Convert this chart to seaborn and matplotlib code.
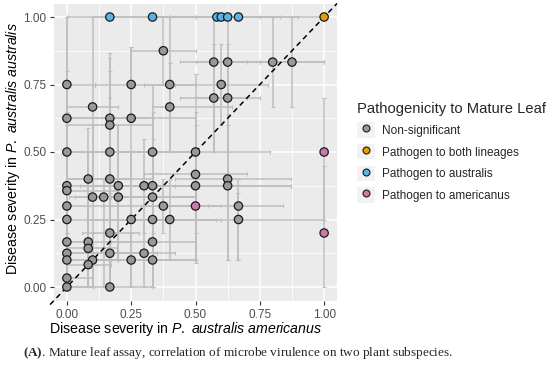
import numpy as np
import pandas as pd
import matplotlib
matplotlib.use("Agg")
import matplotlib.pyplot as plt
import seaborn as sns
from matplotlib.lines import Line2D
from matplotlib.patches import Patch
from matplotlib.legend_handler import HandlerTuple

# mean disease severity on each subspecies, with error bar limits
americanus = [0.375, 0.571, 0.625, 0.8, 0.875,
              0.0, 0.25, 0.4, 0.6, 0.571, 0.625, 0.1, 0.4,
              0.0, 0.167, 0.25, 0.167,
              0.0, 0.167, 0.333, 0.5, 0.5,
              0.083, 0.167, 0.625,
              0.0, 0.2, 0.3, 0.333, 0.5, 0.625, 0.0,
              0.1, 0.143, 0.2, 0.333,
              0.0, 0.375, 0.667,
              0.0, 0.25, 0.333, 0.4, 0.667,
              0.167, 0.0, 0.083, 0.333, 0.083,
              0.0, 0.167, 0.3, 0.0, 0.1, 0.25, 0.333,
              0.083, 0.0, 0.0, 0.167,
              1.0,
              0.167, 0.333, 0.583, 0.6, 0.625, 0.667,
              1.0, 0.5, 1.0]
australis = [0.875, 0.833, 0.833, 0.833, 0.833,
             0.75, 0.75, 0.75, 0.75, 0.70, 0.70, 0.667, 0.667,
             0.625, 0.625, 0.625, 0.6,
             0.5, 0.5, 0.5, 0.5, 0.417,
             0.4, 0.4, 0.4,
             0.375, 0.375, 0.375, 0.375, 0.375, 0.375, 0.357,
             0.333, 0.333, 0.333, 0.333,
             0.3, 0.3, 0.3,
             0.25, 0.25, 0.25, 0.25, 0.25,
             0.2, 0.167, 0.167, 0.167, 0.143,
             0.125, 0.125, 0.125, 0.1, 0.1, 0.1, 0.1,
             0.083, 0.033, 0.0, 0.0,
             1.0,
             1.0, 1.0, 1.0, 1.0, 1.0, 1.0,
             0.5, 0.3, 0.2]
amer_lo = [0.25, 0.44, 0.5, 0.6, 0.75,
           0.0, 0.11, 0.3, 0.42, 0.44, 0.5, 0.0, 0.33,
           0.0, 0.0, 0.167, 0.0,
           0.0, 0.0, 0.2, 0.2, 0.3,
           0.0, 0.0, 0.42,
           0.0, 0.05, 0.1, 0.2, 0.3, 0.42, 0.0,
           0.01, 0.03, 0.1, 0.17,
           0.0, 0.14, 0.5,
           0.0, 0.08, 0.08, 0.25, 0.4,
           0.06, 0.0, 0.0, 0.17, 0.0,
           0.0, 0.0, 0.17, 0.0, 0.0, 0.1, 0.17,
           0.0, 0.0, 0.0, 0.0,
           0.67,
           0.0, 0.1, 0.33, 0.4, 0.5, 0.4,
           1.0, 0.3, 1.0]
amer_hi = [0.5, 0.70, 0.75, 1.0, 1.0,
           0.11, 0.39, 0.5, 0.78, 0.70, 0.75, 0.2, 0.64,
           0.25, 0.333, 0.5, 0.333,
           0.33, 0.35, 0.5, 0.79, 0.7,
           0.25, 0.33, 0.87,
           0.2, 0.35, 0.5, 0.5, 0.87, 0.87, 0.2,
           0.25, 0.3, 0.5, 0.5,
           0.14, 0.55, 0.84,
           0.08, 0.4, 0.58, 0.6, 1.0,
           0.28, 0.08, 0.25, 0.5, 0.2,
           0.2, 0.35, 0.42, 0.2, 0.2, 0.5, 0.5,
           0.17, 0.1, 0.1, 0.333,
           1.0,
           0.5, 0.6, 0.83, 0.8, 0.75, 0.9,
           1.0, 0.6, 1.0]
aus_lo = [0.75, 0.5, 0.667, 0.667, 0.667,
          0.5, 0.61, 0.5, 0.6, 0.5, 0.5, 0.33, 0.5,
          0.25, 0.4, 0.25, 0.35,
          0.2, 0.2, 0.25, 0.09, 0.2,
          0.1, 0.1, 0.1,
          0.1, 0.1, 0.2, 0.1, 0.1, 0.1, 0.0,
          0.0, 0.0, 0.1, 0.1,
          0.0, 0.2, 0.1,
          0.0, 0.0, 0.0, 0.1, 0.1,
          0.0, 0.0, 0.0, 0.1, 0.0,
          0.0, 0.0, 0.0, 0.0, 0.0, 0.0, 0.0,
          0.0, 0.0, 0.0, 0.0,
          1.0,
          1.0, 1.0, 1.0, 1.0, 1.0, 1.0,
          0.25, 0.1, 0.0]
aus_hi = [1.0, 1.0, 1.0, 1.0, 1.0,
          1.0, 0.89, 1.0, 0.9, 0.9, 0.9, 1.0, 0.83,
          1.0, 0.865, 0.89, 0.85,
          0.8, 0.8, 0.75, 0.79, 0.6,
          0.59, 0.7, 0.64,
          0.65, 0.6, 0.55, 0.65, 0.65, 0.6, 0.6,
          0.6, 0.4, 0.6, 0.55,
          0.6, 0.4, 0.35,
          0.5, 0.5, 0.5, 0.4, 0.4,
          0.35, 0.35, 0.5, 0.25, 0.3,
          0.25, 0.3, 0.25, 0.2, 0.2, 0.2, 0.2,
          0.17, 0.1, 0.1, 0.1,
          1.0,
          1.0, 1.0, 1.0, 1.0, 1.0, 1.0,
          0.7, 0.5, 0.45]
groups = (["Non-significant"] * 60 + ["Pathogen to both lineages"]
          + ["Pathogen to australis"] * 6 + ["Pathogen to americanus"] * 3)

levels = ["Non-significant", "Pathogen to both lineages",
          "Pathogen to australis", "Pathogen to americanus"]
colors = ["#999999", "#E69F00", "#56B4E9", "#CC79A7"]

df = pd.DataFrame({"americanus": americanus, "australis": australis,
                   "amer_lo": amer_lo, "amer_hi": amer_hi,
                   "aus_lo": aus_lo, "aus_hi": aus_hi, "group": groups})

sns.set_theme(style="darkgrid")
plt.rcParams["font.family"] = ["Liberation Sans", "DejaVu Sans"]
plt.rcParams["mathtext.fontset"] = "custom"
plt.rcParams["mathtext.rm"] = "Liberation Sans"
plt.rcParams["mathtext.it"] = "Liberation Sans:italic"
plt.rcParams["mathtext.bf"] = "Liberation Serif:bold"

fig = plt.figure(figsize=(5.5, 3.65), dpi=100)
ax = fig.add_axes([54 / 550, 1 - 300.5 / 365, 283 / 550, 297 / 365])
ax.set_facecolor("#EBEBEB")

ax.errorbar(df.americanus, df.australis,
            xerr=[df.americanus - df.amer_lo, df.amer_hi - df.americanus],
            yerr=[df.australis - df.aus_lo, df.aus_hi - df.australis],
            fmt="none", ecolor="#BEBEBE", elinewidth=1.1, capsize=1.6,
            capthick=0.8, zorder=2)

ax.plot([-0.065, 1.05], [-0.065, 1.05], ls=(0, (3.4, 2.6)), color="black",
        lw=1.1, zorder=3, clip_on=False)

sns.scatterplot(data=df, x="americanus", y="australis", hue="group",
                hue_order=levels, palette=colors, s=36, edgecolor="#1a1a1a",
                linewidth=0.9, legend=False, zorder=4, ax=ax)

ax.set_xlim(-0.05, 1.05)
ax.set_ylim(-0.05, 1.05)
ticks = [0, 0.25, 0.5, 0.75, 1.0]
ax.set_xticks(ticks)
ax.set_yticks(ticks)
ax.set_xticklabels(["0.00", "0.25", "0.50", "0.75", "1.00"])
ax.set_yticklabels(["0.00", "0.25", "0.50", "0.75", "1.00"])
ax.set_xticks([0.125, 0.375, 0.625, 0.875], minor=True)
ax.set_yticks([0.125, 0.375, 0.625, 0.875], minor=True)
ax.grid(which="major", color="white", lw=1.1)
ax.grid(which="minor", color="white", lw=0.55)
ax.set_axisbelow(True)
for s in ax.spines.values():
    s.set_visible(False)
ax.tick_params(which="major", length=3, width=0.8, color="#333333",
               labelcolor="#4D4D4D", labelsize=8.5, pad=2.6,
               bottom=True, left=True)
ax.tick_params(axis="x", which="major", pad=3.0)
ax.tick_params(which="minor", length=0)

ax.set_xlabel(r"Disease severity in $\it{P.}$ $\it{australis\ americanus}$",
              fontsize=10.2, color="black")
ax.set_ylabel(r"Disease severity in $\it{P.}$ $\it{australis\ australis}$",
              fontsize=10.2, color="black")
ax.xaxis.set_label_coords((186 - 54) / 283, -(320 - 300.5) / 297)
ax.yaxis.set_label_coords(-(54 - 22) / 283, (300.5 - 148.5) / 297)

handles = [(Patch(facecolor="#F2F2F2", edgecolor="none"),
            Line2D([], [], ls="none", marker="o", ms=5, mfc=c,
                   mec="#1a1a1a", mew=0.8)) for c in colors]
leg = fig.legend(handles, levels, handler_map={tuple: HandlerTuple(ndivide=1, pad=0)},
                 title="Pathogenicity to Mature Leaf", loc="upper left",
                 bbox_to_anchor=(357 / 550, 1 - 102 / 365), frameon=False,
                 fontsize=8.5, title_fontsize=10.6, handlelength=1.55,
                 handleheight=1.6, labelspacing=0.55, handletextpad=0.55,
                 borderpad=0, borderaxespad=0, alignment="left")

fig.text(23 / 550, 1 - 353 / 365,
         r"$\bf{(A)}$. Mature leaf assay, correlation of microbe virulence on two plant subspecies.",
         family=["Liberation Serif"], fontsize=9.5, va="center", ha="left")

fig.savefig("out.png", dpi=100)
